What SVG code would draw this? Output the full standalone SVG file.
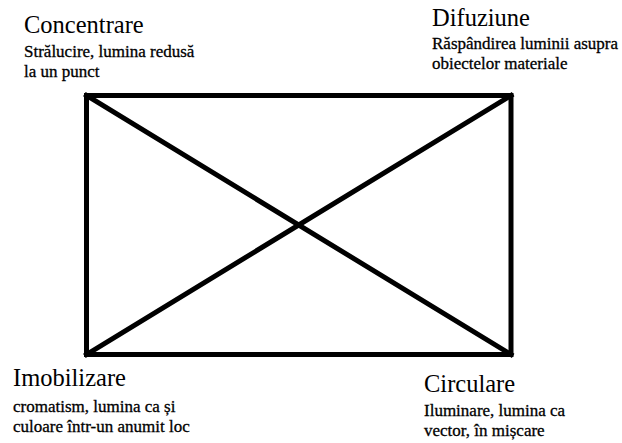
<svg xmlns="http://www.w3.org/2000/svg" width="622" height="443" viewBox="0 0 622 443">
<style>
.h{font-family:'Liberation Serif','DejaVu Serif',serif;font-size:24.5px;fill:#000}
.s{font-family:'Liberation Serif','DejaVu Serif',serif;font-size:17px;fill:#000;stroke:#000;stroke-width:0.3}
.ln{stroke:#000;stroke-width:5;fill:none;stroke-linecap:square}
</style>
<rect width="622" height="443" fill="#fff"/>
<g id="connectors">
<rect class="ln" x="86.5" y="95.5" width="424.5" height="259"/>
<line class="ln" x1="86.5" y1="95.5" x2="511" y2="354.5"/>
<line class="ln" x1="511" y1="95.5" x2="86.5" y2="354.5"/>
</g>
<g id="concentrare">
<text class="h" x="24" y="33">Concentrare</text>
<text class="s" x="24" y="57">Strălucire, lumina redusă</text>
<text class="s" x="24" y="77">la un punct</text>
</g>
<g id="difuziune">
<text class="h" x="432" y="26">Difuziune</text>
<text class="s" x="432" y="49">Răspândirea luminii asupra</text>
<text class="s" x="432" y="69">obiectelor materiale</text>
</g>
<g id="imobilizare">
<text class="h" x="13" y="386">Imobilizare</text>
<text class="s" x="13" y="412">cromatism, lumina ca și</text>
<text class="s" x="13" y="432">culoare într-un anumit loc</text>
</g>
<g id="circulare">
<text class="h" x="424" y="392">Circulare</text>
<text class="s" x="424" y="416">Iluminare, lumina ca</text>
<text class="s" x="424" y="436">vector, în mișcare</text>
</g>
</svg>
